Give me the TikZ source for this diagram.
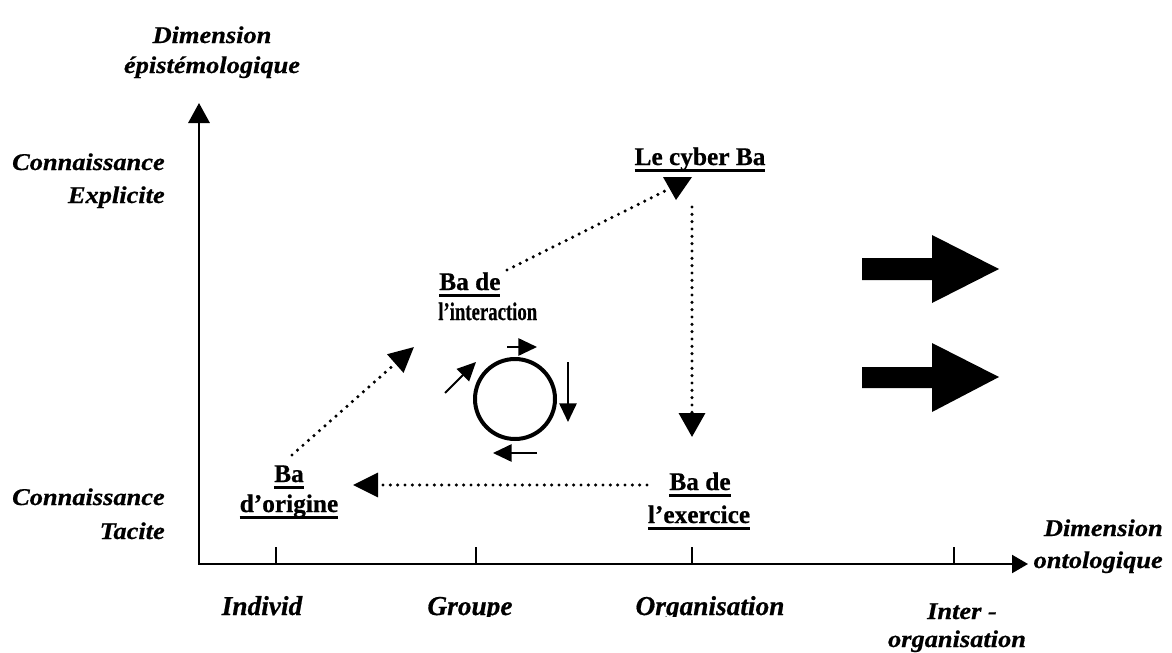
\documentclass[tikz,border=0pt]{standalone}
\usepackage{fontspec}
\setmainfont{Liberation Serif}[FakeBold=0.6]
\newfontfamily\labfont[FakeStretch=1.1, FakeBold=0.6]{Liberation Serif}
\usetikzlibrary{arrows.meta}
\newcommand\ulbar[1]{\setbox0\hbox{#1}\rlap{\rule[-4.9pt]{\wd0}{1.6pt}}\box0}
\begin{document}
\begin{tikzpicture}[x=0.75pt,y=-0.75pt,
  itl/.style={font={\labfont\bfseries\itshape\fontsize{18}{22}\selectfont}, inner sep=0pt},
  botl/.style={font={\bfseries\itshape\fontsize{20.5}{24}\selectfont}, inner sep=0pt, anchor=base},
  bal/.style={font={\bfseries\fontsize{19}{23}\selectfont}, inner sep=0pt, anchor=base},
  dotline/.style={line width=2.6pt, line cap=round, dash pattern=on 0pt off 5.5pt},
  bighead/.style={-{Triangle[length=18.75pt,width=18pt]}},
  smallarr/.style={line width=1.4pt, -{Triangle[length=14pt,width=13pt]}},
  tick/.style={line width=1.3pt}]
\path[use as bounding box] (0,0) rectangle (1172,653);

% axes
\coordinate (O) at (199,564);
\coordinate (Ytip) at (199,103);
\coordinate (Xtip) at (1028,564);
\draw[line width=1.6pt, {Triangle[length=15pt,width=16pt]}-{Triangle[length=12pt,width=13.5pt]}] (Ytip) -- (O) -- (Xtip);
\foreach \x in {276,476,692,954} \draw[tick] (\x,547) -- (\x,564);

% axis labels
\node[itl, anchor=base] (dim1) at (212,43) {Dimension};
\node[itl, anchor=base] (dim2) at (212,73) {épistémologique};
\node[itl, anchor=base east] (ce1) at (165,170) {Connaissance};
\node[itl, anchor=base east] (ce2) at (165,203) {Explicite};
\node[itl, anchor=base east] (ct1) at (165,505) {Connaissance};
\node[itl, anchor=base east] (ct2) at (165,539) {Tacite};
\node[itl, anchor=base east] (do1) at (1163,536) {Dimension};
\node[itl, anchor=base east] (do2) at (1163,568) {ontologique};

\begin{scope}
\clip (180,580) rectangle (820,616);
\node[botl] (ind) at (262,615) {Individ};
\node[botl] (grp) at (470,615) {Groupe};
\node[botl] (org) at (710,615) {Organisation};
\end{scope}
\node[itl, anchor=base] (int1) at (962,619) {Inter -};
\node[itl, anchor=base] (int2) at (957,647) {organisation};

% Ba labels
\node[bal] (cyber) at (700,165) {\ulbar{Le cyber Ba}};
\node[bal, anchor=base west] (inter1) at (439,290) {\ulbar{Ba de}};
\node[bal, anchor=base west] (inter2) at (438,320) {\scalebox{0.74}[1]{l’interaction}};
\node[bal] (ori1) at (289,482) {\ulbar{Ba}};
\node[bal] (ori2) at (289,512) {\ulbar{d’origine}};
\node[bal] (exe1) at (700,490) {\ulbar{Ba de}};
\node[bal] (exe2) at (699,523) {\ulbar{l’exercice}};

% dotted connectors
\coordinate (a1) at (292,455); \coordinate (a2) at (414,347);
\draw[dotline, bighead] (a1) -- (a2);
\coordinate (b1) at (507,270); \coordinate (b2) at (667,190);
\draw[dotline] (b1) -- (b2);
\fill (663,177) -- (692,177) -- (676,200) -- cycle;
\coordinate (c1) at (692,207); \coordinate (c2) at (692,437);
\draw[dotline, -{Triangle[length=18pt,width=19.5pt]}] (c1) -- (c2);
\coordinate (d1) at (647,485); \coordinate (d2) at (353,485);
\draw[dotline, bighead] (d1) -- (d2);

% cycle
\node[circle, draw, line width=3pt, minimum size=60pt, inner sep=0pt] (cyc) at (515,399) {};
\draw[smallarr] (507,347) -- (537,347);
\draw[smallarr] (568,362) -- (568,422);
\draw[smallarr] (537,453) -- (493,453);
\draw[smallarr] (445,393) -- (476,362);

% block arrows
\fill (862,258) -- (932,258) -- (932,235) -- (999,269) -- (932,303) -- (932,280) -- (862,280) -- cycle;
\fill (862,367) -- (932,367) -- (932,343) -- (999,377) -- (932,412) -- (932,388) -- (862,388) -- cycle;
\end{tikzpicture}
\end{document}
